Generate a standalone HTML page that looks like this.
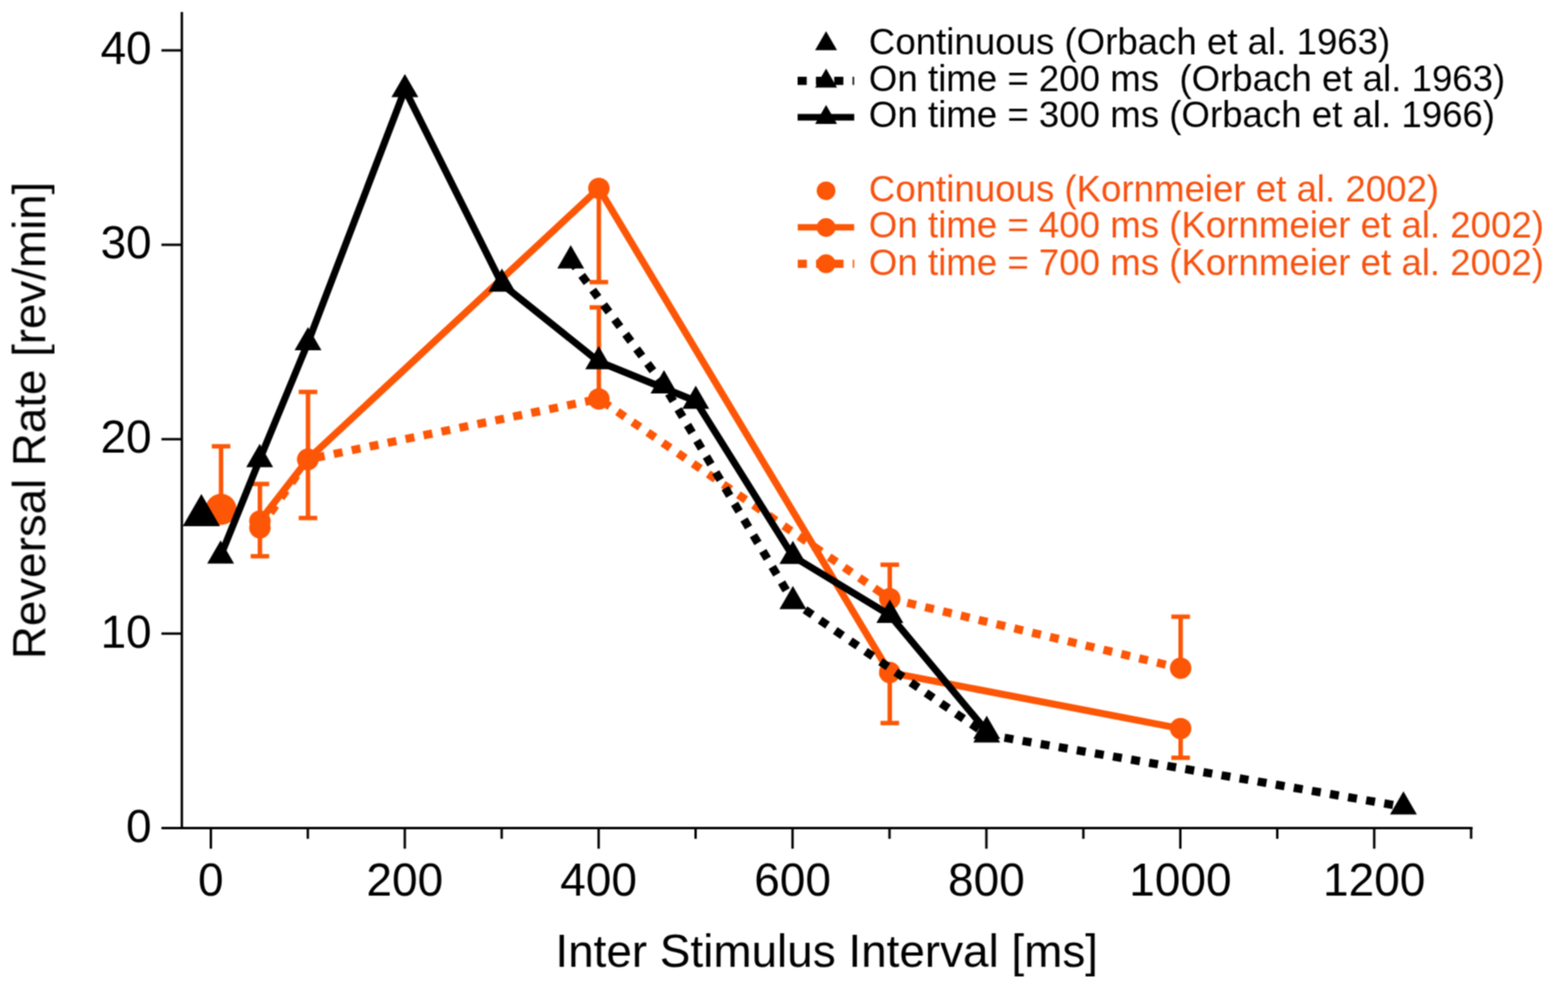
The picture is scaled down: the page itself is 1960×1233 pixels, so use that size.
<!DOCTYPE html>
<html lang="en"><head><meta charset="utf-8"><title>Reversal Rate vs Inter Stimulus Interval</title>
<style>html,body{margin:0;padding:0;background:#fff}svg{display:block}text{font-family:"Liberation Sans",Arial,Helvetica,sans-serif}</style></head><body>
<svg width="1960" height="1233" viewBox="0 0 1960 1233">
<defs><filter id="soft" filterUnits="userSpaceOnUse" x="0" y="0" width="1960" height="1233" color-interpolation-filters="sRGB"><feConvolveMatrix order="3" kernelMatrix="1 2 1 2 4 2 1 2 1" divisor="16" edgeMode="duplicate" preserveAlpha="false"/></filter></defs>
<rect width="1960" height="1233" fill="#ffffff"/>
<g filter="url(#soft)">
<g stroke="#000000" stroke-width="3.0" fill="none">
<line x1="227.3" y1="15" x2="227.3" y2="1035.4"/>
<line x1="201.8" y1="1035.4" x2="1840.7" y2="1035.4"/>
<line x1="201.8" y1="792.3" x2="227.3" y2="792.3"/>
<line x1="201.8" y1="549.2" x2="227.3" y2="549.2"/>
<line x1="201.8" y1="306.1" x2="227.3" y2="306.1"/>
<line x1="201.8" y1="63.0" x2="227.3" y2="63.0"/>
<line x1="263.6" y1="1035.4" x2="263.6" y2="1061.3"/>
<line x1="384.8" y1="1035.4" x2="384.8" y2="1048.9"/>
<line x1="506.0" y1="1035.4" x2="506.0" y2="1061.3"/>
<line x1="627.1" y1="1035.4" x2="627.1" y2="1048.9"/>
<line x1="748.3" y1="1035.4" x2="748.3" y2="1061.3"/>
<line x1="869.5" y1="1035.4" x2="869.5" y2="1048.9"/>
<line x1="990.7" y1="1035.4" x2="990.7" y2="1061.3"/>
<line x1="1111.9" y1="1035.4" x2="1111.9" y2="1048.9"/>
<line x1="1233.0" y1="1035.4" x2="1233.0" y2="1061.3"/>
<line x1="1354.2" y1="1035.4" x2="1354.2" y2="1048.9"/>
<line x1="1475.4" y1="1035.4" x2="1475.4" y2="1061.3"/>
<line x1="1596.6" y1="1035.4" x2="1596.6" y2="1048.9"/>
<line x1="1717.8" y1="1035.4" x2="1717.8" y2="1061.3"/>
<line x1="1838.9" y1="1035.4" x2="1838.9" y2="1048.9"/>
</g>
<g font-size="57.5" fill="#000000">
<text transform="translate(189.6 1052.6)" text-anchor="end">0</text>
<text transform="translate(189.6 809.5)" text-anchor="end">10</text>
<text transform="translate(189.6 566.4)" text-anchor="end">20</text>
<text transform="translate(189.6 323.3)" text-anchor="end">30</text>
<text transform="translate(189.6 80.2)" text-anchor="end">40</text>
<text transform="translate(263.6 1119.9)" text-anchor="middle">0</text>
<text transform="translate(506.0 1119.9)" text-anchor="middle">200</text>
<text transform="translate(748.3 1119.9)" text-anchor="middle">400</text>
<text transform="translate(990.7 1119.9)" text-anchor="middle">600</text>
<text transform="translate(1233.0 1119.9)" text-anchor="middle">800</text>
<text transform="translate(1475.4 1119.9)" text-anchor="middle">1000</text>
<text transform="translate(1717.8 1119.9)" text-anchor="middle">1200</text>
<text x="694.3" y="1208.6" font-size="57.3">Inter Stimulus Interval [ms]</text>
<text transform="translate(56.5 824.2) rotate(-90)" font-size="57.15">Reversal Rate [rev/min]</text>
</g>
<g>
<line x1="276.3" y1="558.1" x2="276.3" y2="637.0" stroke="#FC5606" stroke-width="5.6"/><line x1="264.7" y1="558.1" x2="287.9" y2="558.1" stroke="#FC5606" stroke-width="5.5"/>
<line x1="324.9" y1="605.2" x2="324.9" y2="695.6" stroke="#FC5606" stroke-width="5.6"/><line x1="313.3" y1="605.2" x2="336.5" y2="605.2" stroke="#FC5606" stroke-width="5.5"/><line x1="313.3" y1="695.6" x2="336.5" y2="695.6" stroke="#FC5606" stroke-width="5.5"/>
<line x1="385.0" y1="490.1" x2="385.0" y2="647.8" stroke="#FC5606" stroke-width="5.6"/><line x1="373.4" y1="490.1" x2="396.6" y2="490.1" stroke="#FC5606" stroke-width="5.5"/><line x1="373.4" y1="647.8" x2="396.6" y2="647.8" stroke="#FC5606" stroke-width="5.5"/>
<line x1="748.6" y1="235.6" x2="748.6" y2="352.8" stroke="#FC5606" stroke-width="5.6"/><line x1="737.0" y1="352.8" x2="760.2" y2="352.8" stroke="#FC5606" stroke-width="5.5"/>
<line x1="748.6" y1="384.4" x2="748.6" y2="498.8" stroke="#FC5606" stroke-width="5.6"/><line x1="737.0" y1="384.4" x2="760.2" y2="384.4" stroke="#FC5606" stroke-width="5.5"/>
<line x1="1112.2" y1="706.2" x2="1112.2" y2="748.6" stroke="#FC5606" stroke-width="5.6"/><line x1="1100.6" y1="706.2" x2="1123.8" y2="706.2" stroke="#FC5606" stroke-width="5.5"/>
<line x1="1112.2" y1="841.0" x2="1112.2" y2="904.2" stroke="#FC5606" stroke-width="5.6"/><line x1="1100.6" y1="904.2" x2="1123.8" y2="904.2" stroke="#FC5606" stroke-width="5.5"/>
<line x1="1475.8" y1="771.2" x2="1475.8" y2="835.6" stroke="#FC5606" stroke-width="5.6"/><line x1="1464.2" y1="771.2" x2="1487.4" y2="771.2" stroke="#FC5606" stroke-width="5.5"/>
<line x1="1475.8" y1="911.1" x2="1475.8" y2="947.6" stroke="#FC5606" stroke-width="5.6"/><line x1="1464.2" y1="947.6" x2="1487.4" y2="947.6" stroke="#FC5606" stroke-width="5.5"/>
<polyline points="324.9,660.0 384.8,574.5 748.6,498.8 1112.2,748.6 1475.8,835.6" fill="none" stroke="#FC5606" stroke-width="10.3" stroke-linejoin="miter" stroke-dasharray="11.2 11.72"/>
<polyline points="324.9,651.6 384.8,574.5 748.6,235.6 1112.1,841.0 1475.8,911.1" fill="none" stroke="#FC5606" stroke-width="8.7" stroke-linejoin="miter"/>
<circle cx="324.9" cy="660.0" r="13.4" fill="#FC5606"/>
<circle cx="384.8" cy="574.5" r="13.4" fill="#FC5606"/>
<circle cx="748.6" cy="498.8" r="13.4" fill="#FC5606"/>
<circle cx="1112.2" cy="748.6" r="13.4" fill="#FC5606"/>
<circle cx="1475.8" cy="835.6" r="13.4" fill="#FC5606"/>
<circle cx="324.9" cy="651.6" r="13.4" fill="#FC5606"/>
<circle cx="384.8" cy="574.5" r="13.4" fill="#FC5606"/>
<circle cx="748.6" cy="235.6" r="13.4" fill="#FC5606"/>
<circle cx="1112.1" cy="841.0" r="13.4" fill="#FC5606"/>
<circle cx="1475.8" cy="911.1" r="13.4" fill="#FC5606"/>
<circle cx="276.3" cy="637.0" r="19.5" fill="#FC5606"/>
</g>
<g>
<polyline points="713.4,326.0 830.0,482.2 991.1,752.1 1233.4,918.7 1754.3,1008.8" fill="none" stroke="#000000" stroke-width="10.3" stroke-linejoin="miter" stroke-dasharray="11.2 11.74"/>
<polyline points="275.8,695.1 324.6,574.5 385.0,428.3 506.1,111.9 627.4,355.1 748.4,452.1 869.7,501.6 991.1,695.6 1112.3,769.2 1233.4,914.4" fill="none" stroke="#000000" stroke-width="8.7" stroke-linejoin="miter"/>
<polygon points="713.4,306.6 730.2,335.7 696.6,335.7" fill="#000000"/>
<polygon points="830.0,462.8 846.8,491.9 813.2,491.9" fill="#000000"/>
<polygon points="991.1,732.7 1007.9,761.8 974.3,761.8" fill="#000000"/>
<polygon points="1233.4,899.3 1250.2,928.4 1216.6,928.4" fill="#000000"/>
<polygon points="1754.3,989.4 1771.1,1018.5 1737.5,1018.5" fill="#000000"/>
<polygon points="275.8,675.7 292.6,704.8 259.0,704.8" fill="#000000"/>
<polygon points="324.6,555.1 341.4,584.2 307.8,584.2" fill="#000000"/>
<polygon points="385.0,408.9 401.8,438.0 368.2,438.0" fill="#000000"/>
<polygon points="506.1,92.5 522.9,121.6 489.3,121.6" fill="#000000"/>
<polygon points="627.4,335.7 644.2,364.8 610.6,364.8" fill="#000000"/>
<polygon points="748.4,432.7 765.2,461.8 731.6,461.8" fill="#000000"/>
<polygon points="869.7,482.2 886.5,511.3 852.9,511.3" fill="#000000"/>
<polygon points="991.1,676.2 1007.9,705.3 974.3,705.3" fill="#000000"/>
<polygon points="1112.3,749.8 1129.1,778.9 1095.5,778.9" fill="#000000"/>
<polygon points="1233.4,895.0 1250.2,924.1 1216.6,924.1" fill="#000000"/>
<polygon points="251.7,617.7 275.0,658.1 228.4,658.1" fill="#000000"/>
</g>
<g>
<polygon points="1032.6,39.1 1046.3,62.8 1018.9,62.8" fill="#000000"/>
<line x1="997" y1="101.1" x2="1067.6" y2="101.1" stroke="#000000" stroke-width="10.3" stroke-dasharray="11.4 11.5"/>
<polygon points="1032.6,85.7 1046.3,109.4 1018.9,109.4" fill="#000000"/>
<line x1="997" y1="146.7" x2="1067.8" y2="146.7" stroke="#000000" stroke-width="8.3"/>
<polygon points="1032.6,131.2 1046.3,154.9 1018.9,154.9" fill="#000000"/>
<circle cx="1032.6" cy="238.6" r="11.7" fill="#FC5606"/>
<line x1="997.2" y1="284.2" x2="1067.7" y2="284.2" stroke="#FC5606" stroke-width="8"/>
<circle cx="1032.6" cy="284.5" r="11.8" fill="#FC5606"/>
<line x1="997.2" y1="329.9" x2="1067.7" y2="329.9" stroke="#FC5606" stroke-width="10.3" stroke-dasharray="11.4 11.5"/>
<circle cx="1032.6" cy="329.8" r="11.8" fill="#FC5606"/>
</g>
<g font-size="45.8" xml:space="preserve">
<text x="1086.1" y="68.3" fill="#000000" style="white-space:pre">Continuous (Orbach et al. 1963)</text>
<text x="1086.1" y="113.8" fill="#000000" style="white-space:pre">On time = 200 ms  (Orbach et al. 1963)</text>
<text x="1086.1" y="159.2" fill="#000000" style="white-space:pre">On time = 300 ms (Orbach et al. 1966)</text>
<text x="1086.1" y="251.7" fill="#F85210" style="white-space:pre">Continuous (Kornmeier et al. 2002)</text>
<text x="1086.1" y="297.1" fill="#F85210" style="white-space:pre">On time = 400 ms (Kornmeier et al. 2002)</text>
<text x="1086.1" y="343.6" fill="#F85210" style="white-space:pre">On time = 700 ms (Kornmeier et al. 2002)</text>
</g>
</g>
</svg></body></html>
